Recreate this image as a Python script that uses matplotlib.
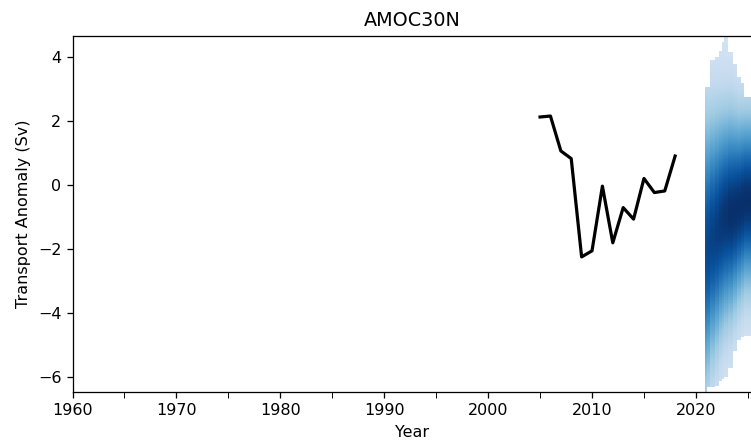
import numpy as np
import matplotlib
matplotlib.use("Agg")
import matplotlib.pyplot as plt

# Observed line
obs_years = [2005, 2006, 2007, 2008, 2009, 2010, 2011, 2012, 2013, 2014, 2015, 2016, 2017, 2018]
obs_values = [2.13, 2.16, 1.07, 0.83, -2.24, -2.05, -0.03, -1.80, -0.70, -1.06, 0.21, -0.23, -0.18, 0.91]

# Forecast fan: column edges (years), envelope and distribution per column
fan_edges = [2020.87, 2021.05, 2021.4, 2021.8, 2022.2, 2022.55, 2022.75,
             2023.05, 2023.55, 2024.0, 2024.3, 2024.6, 2025.4]
fan_upper = [3.07, 3.07, 3.9, 4.0, 4.2, 4.45, 4.75, 4.17, 3.8, 3.4, 3.2, 2.75]
fan_lower = [-6.5, -6.3, -6.3, -6.25, -6.1, -6.05, -6.0, -5.7, -5.2, -4.85, -4.75, -4.7]
fan_center = [-2.0, -1.9, -1.6, -1.4, -1.2, -1.1, -1.0, -0.9, -0.8, -0.7, -0.6, -0.5]
fan_spread = [2.6, 2.5, 2.35, 2.25, 2.15, 2.1, 2.05, 2.0, 1.9, 1.8, 1.75, 1.7]
fan_peak = [0.88, 0.9, 0.92, 0.94, 0.96, 0.97, 0.98, 1.0, 1.0, 1.0, 1.0, 1.0]

fig = plt.figure(figsize=(751 / 115, 444 / 115), dpi=115)
ax = fig.add_axes([72.5 / 751, 1 - 392 / 444, 679 / 751, 356 / 444])

# density field for fan
yy = np.linspace(-6.6, 4.8, 600)
ymid = 0.5 * (yy[:-1] + yy[1:])
C = np.zeros((len(ymid), len(fan_upper)))
mask = np.zeros_like(C, dtype=bool)
for j in range(len(fan_upper)):
    z = (ymid - fan_center[j]) / fan_spread[j]
    C[:, j] = fan_peak[j] * np.exp(-0.5 * z ** 2)
    mask[:, j] = (ymid < fan_lower[j]) | (ymid > fan_upper[j])
Cm = np.ma.array(C, mask=mask)
ax.pcolormesh(np.array(fan_edges), yy, Cm, cmap="Blues", vmin=-0.2, vmax=1.0,
              shading="flat", rasterized=True)

ax.plot(obs_years, obs_values, color="black", lw=2)

ax.set_xlim(1960, 2025.35)
ax.set_ylim(-6.46, 4.66)
ax.set_xticks([1960, 1970, 1980, 1990, 2000, 2010, 2020])
ax.set_xticks([1965, 1975, 1985, 1995, 2005, 2015, 2025], minor=True)
ax.tick_params(which="minor", length=3.5)
ax.set_yticks([-6, -4, -2, 0, 2, 4])
ax.set_xlabel("Year")
ax.set_ylabel("Transport Anomaly (Sv)")
ax.set_title("AMOC30N")

fig.savefig("out.png", dpi=115)
